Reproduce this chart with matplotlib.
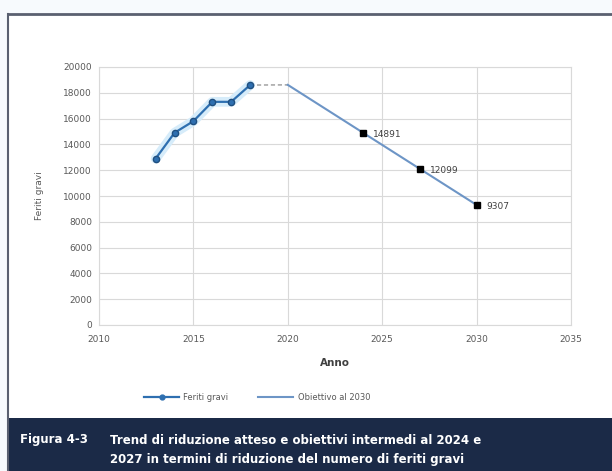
import matplotlib
matplotlib.use("Agg")
import matplotlib.pyplot as plt
from matplotlib.patches import Rectangle
from matplotlib.lines import Line2D

# Data
years_obs = [2013, 2014, 2015, 2016, 2017, 2018]
feriti_obs = [12900, 14900, 15800, 17300, 17300, 18600]
gap_years = [2018, 2020]
gap_values = [18600, 18614]
target_years = [2020, 2024, 2027, 2030]
target_values = [18614, 14891, 12099, 9307]
label_years = [2024, 2027, 2030]
label_values = [14891, 12099, 9307]
xticks = [2010, 2015, 2020, 2025, 2030, 2035]
yticks = list(range(0, 20001, 2000))

W, H = 612, 471
fig = plt.figure(figsize=(W / 100, H / 100), dpi=100)
fig.patch.set_facecolor("#f7fafd")

# outer frame
frame_ax = fig.add_axes([0, 0, 1, 1])
frame_ax.set_xlim(0, W)
frame_ax.set_ylim(H, 0)
frame_ax.axis("off")
frame_ax.add_patch(Rectangle((8, 14), W - 8, H - 14, facecolor="white", edgecolor="none"))
frame_ax.plot([8, W], [14, 14], color="#5a6070", lw=2.0)
frame_ax.plot([8, 8], [14, H], color="#5a6070", lw=1.5)
frame_ax.add_patch(Rectangle((8, 418), W - 8, H - 418, facecolor="#1b2a47", edgecolor="none"))
frame_ax.text(20, 440, "Figura 4-3", color="white", fontsize=8.5, fontweight="bold",
              va="center", ha="left", family="DejaVu Sans")
frame_ax.text(110, 440, "Trend di riduzione atteso e obiettivi intermedi al 2024 e",
              color="white", fontsize=8.5, fontweight="bold", va="center", ha="left",
              family="DejaVu Sans")
frame_ax.text(110, 459, "2027 in termini di riduzione del numero di feriti gravi",
              color="white", fontsize=8.5, fontweight="bold", va="center", ha="left",
              family="DejaVu Sans")

# chart axes
left, right, top, bottom = 99, 571, 67, 325
ax = fig.add_axes([left / W, 1 - bottom / H, (right - left) / W, (bottom - top) / H])
ax.set_xlim(2010, 2035)
ax.set_ylim(0, 20000)
ax.set_xticks(xticks)
ax.set_yticks(yticks)
ax.grid(True, color="#d9d9d9", lw=0.8)
ax.set_axisbelow(True)
for s in ax.spines.values():
    s.set_color("#d9d9d9")
    s.set_linewidth(0.8)
ax.tick_params(axis="both", length=0, labelsize=6.5, labelcolor="#595959")
ax.tick_params(axis="x", pad=7)
ax.tick_params(axis="y", pad=5)

# observed series with glow
ax.plot(years_obs, feriti_obs, color="#d6ecfa", lw=7, solid_capstyle="round", zorder=2)
ax.plot(years_obs, feriti_obs, color="#2e6fb0", lw=1.6, marker="o", ms=4.5,
        markerfacecolor="#2e6fb0", markeredgecolor="#1f4f80", zorder=3)
ax.plot(gap_years, gap_values, color="#9a9a9a", lw=1.0, ls=(0, (3, 2)), zorder=2)
ax.plot(target_years, target_values, color="#6d95c6", lw=1.5, zorder=2)
ax.plot(label_years, label_values, ls="none", marker="s", ms=5, color="black", zorder=4)
for x, y in zip(label_years, label_values):
    ax.annotate(f"{y}", (x, y), xytext=(7, -1), textcoords="offset points",
                fontsize=6.5, color="#404040", va="center", ha="left")

ax.set_ylabel("Feriti gravi", fontsize=6.5, color="#595959", labelpad=14)
ax.set_xlabel("Anno", fontsize=7.5, color="#404040", fontweight="bold", labelpad=10)

# legend
handles = [
    Line2D([], [], color="#2e6fb0", lw=1.6, marker="o", ms=3.5),
    Line2D([], [], color="#6d95c6", lw=1.5),
]
fig.legend(handles, ["Feriti gravi", "Obiettivo al 2030"], loc="center",
           bbox_to_anchor=(0.42, 1 - 397 / H), ncol=2, frameon=False,
           fontsize=6, labelcolor="#595959", columnspacing=3.6, handlelength=4.2,
           handletextpad=0.5)

fig.savefig("out.png", dpi=100, facecolor=fig.get_facecolor())
